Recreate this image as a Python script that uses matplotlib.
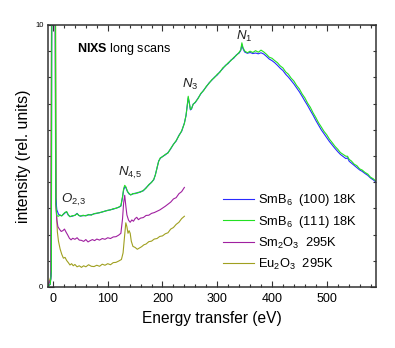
import numpy as np
import matplotlib.pyplot as plt

plt.rcParams['font.family'] = ['Liberation Sans', 'DejaVu Sans']
plt.rcParams['mathtext.fontset'] = 'custom'
plt.rcParams['mathtext.rm'] = 'Liberation Sans'
plt.rcParams['mathtext.it'] = 'Liberation Sans:italic'
plt.rcParams['mathtext.bf'] = 'Liberation Sans:bold'

# SmB6 energy grid (eV) shared by both crystal orientations
e_smb = [-10, -5, -3, -2, 1, 4, 5, 7, 10, 13, 16, 19, 22, 25, 28, 31, 35, 40, 44, 47,
         50, 55, 60, 65, 70, 75, 80, 85, 90, 95, 100, 105, 110, 115, 120, 124, 127, 129,
         131, 133, 136, 139, 142, 146, 150, 155, 160, 165, 170, 175, 180, 184, 187, 190,
         193, 196, 200, 205, 210, 215, 220, 225, 230, 235, 240, 243, 245, 247, 249, 251,
         253, 256, 260, 265, 270, 275, 280, 285, 290, 295, 300, 305, 310, 315, 320, 325,
         330, 335, 340, 343, 345, 347, 350, 355, 360, 365, 370, 375, 380, 385, 390, 395,
         400, 405, 410, 415, 420, 425, 430, 435, 440, 445, 450, 455, 460, 465, 470, 475,
         480, 485, 490, 495, 500, 505, 510, 515, 520, 525, 530, 535, 538, 541, 545, 550,
         555, 560, 565, 570, 575, 580, 585, 590]

smb6_111 = [0.02, 0.1, 0.6, 14, 40, 14, 3.2, 2.72, 2.70, 2.75, 2.71, 2.79, 2.85, 2.88, 2.75,
            2.68, 2.72, 2.73, 2.80, 2.74, 2.70, 2.74, 2.71, 2.77, 2.74, 2.80, 2.82, 2.83,
            2.87, 2.89, 2.93, 2.94, 2.99, 3.00, 3.05, 3.10, 3.45, 3.75, 3.88, 3.83, 3.65,
            3.57, 3.51, 3.57, 3.56, 3.61, 3.62, 3.69, 3.77, 3.91, 3.99, 4.11, 4.27, 4.56,
            4.79, 4.93, 4.97, 5.06, 5.11, 5.29, 5.44, 5.59, 5.77, 5.96, 6.24, 6.56, 6.90,
            7.28, 7.04, 6.78, 6.81, 6.97, 7.06, 7.19, 7.39, 7.49, 7.66, 7.77, 7.91, 7.99,
            8.12, 8.20, 8.36, 8.44, 8.56, 8.64, 8.76, 8.84, 8.96, 9.05, 9.32, 9.14, 9.01,
            8.94, 9.00, 8.95, 9.02, 8.96, 9.04, 8.97, 8.88, 8.77, 8.73, 8.64, 8.56, 8.44,
            8.36, 8.21, 8.12, 7.97, 7.86, 7.69, 7.56, 7.37, 7.22, 7.02, 6.86, 6.65, 6.47,
            6.27, 6.11, 5.94, 5.81, 5.64, 5.51, 5.37, 5.26, 5.13, 5.06, 4.99, 4.99, 4.87,
            4.81, 4.69, 4.63, 4.51, 4.46, 4.37, 4.31, 4.19, 4.13, 4.04]

smb6_100 = [0.02, 0.1, 0.6, 14, 40, 16, 3.4, 2.95, 2.78, 2.73, 2.72, 2.77, 2.83, 2.86, 2.74,
            2.69, 2.70, 2.74, 2.81, 2.73, 2.71, 2.72, 2.73, 2.75, 2.76, 2.79, 2.81, 2.84,
            2.86, 2.90, 2.92, 2.95, 2.97, 3.01, 3.04, 3.09, 3.42, 3.70, 3.82, 3.80, 3.64,
            3.55, 3.52, 3.55, 3.58, 3.59, 3.64, 3.67, 3.79, 3.89, 4.00, 4.09, 4.29, 4.53,
            4.81, 4.91, 4.98, 5.04, 5.13, 5.27, 5.45, 5.57, 5.79, 5.94, 6.26, 6.54, 6.88,
            7.22, 7.02, 6.76, 6.79, 6.98, 7.04, 7.21, 7.37, 7.51, 7.64, 7.79, 7.89, 8.01,
            8.09, 8.22, 8.33, 8.46, 8.53, 8.66, 8.73, 8.86, 8.93, 9.03, 9.25, 9.10, 8.97,
            8.92, 8.95, 8.91, 8.93, 8.90, 8.94, 8.89, 8.80, 8.70, 8.64, 8.56, 8.46, 8.35,
            8.26, 8.12, 8.01, 7.88, 7.75, 7.60, 7.45, 7.28, 7.10, 6.93, 6.74, 6.56, 6.36,
            6.18, 6.00, 5.85, 5.70, 5.55, 5.42, 5.29, 5.17, 5.06, 4.98, 4.90, 4.93, 4.80,
            4.73, 4.64, 4.55, 4.47, 4.41, 4.33, 4.26, 4.16, 4.09, 4.00]

# Sm2O3
e_sm2o3 = [-10, -4, -2, 1, 3, 5, 7, 9, 12, 15, 18, 21, 24, 27, 30, 33, 36, 40, 44, 48, 52,
           56, 60, 64, 68, 72, 76, 80, 85, 90, 95, 100, 105, 110, 115, 120, 124, 127, 129,
           131, 133, 135, 138, 141, 144, 147, 150, 153, 156, 160, 165, 170, 175, 180, 185,
           190, 195, 200, 205, 210, 215, 220, 225, 230, 235, 240]
sm2o3 = [0.02, 0.3, 15, 40, 15, 3.2, 2.56, 2.30, 2.20, 2.12, 2.15, 2.21, 2.09, 1.98, 1.86,
         1.80, 1.86, 1.82, 1.88, 1.79, 1.78, 1.74, 1.81, 1.72, 1.77, 1.81, 1.77, 1.83, 1.79,
         1.85, 1.82, 1.88, 1.85, 1.91, 1.92, 1.98, 2.05, 2.60, 3.20, 3.50, 3.10, 2.75, 2.55,
         2.47, 2.56, 2.51, 2.61, 2.66, 2.57, 2.63, 2.65, 2.73, 2.74, 2.81, 2.84, 2.89, 2.94,
         3.01, 3.08, 3.16, 3.24, 3.36, 3.41, 3.56, 3.64, 3.80]

# Eu2O3
e_eu2o3 = [-10, -4, -2, 1, 4, 6, 8, 10, 13, 16, 19, 22, 25, 28, 31, 34, 37, 40, 44, 48, 52,
           56, 60, 65, 70, 75, 80, 85, 90, 95, 100, 105, 110, 115, 120, 125, 128, 131, 133,
           135, 137, 139, 141, 143, 146, 150, 154, 158, 162, 166, 170, 175, 180, 185, 190,
           195, 200, 205, 210, 215, 220, 225, 230, 235, 240]
eu2o3 = [0.0, 0.4, 15, 40, 15, 3.0, 2.1, 1.75, 1.45, 1.25, 1.10, 1.13, 1.01, 0.93, 0.84,
         0.89, 0.81, 0.86, 0.77, 0.81, 0.75, 0.81, 0.77, 0.85, 0.79, 0.78, 0.83, 0.79, 0.87,
         0.83, 0.89, 0.85, 0.93, 0.94, 0.99, 1.05, 1.30, 2.00, 2.45, 2.30, 2.05, 2.15, 2.05,
         1.75, 1.55, 1.51, 1.44, 1.49, 1.54, 1.61, 1.64, 1.73, 1.75, 1.83, 1.85, 1.93, 1.95,
         2.03, 2.07, 2.21, 2.27, 2.39, 2.47, 2.61, 2.70]

fig = plt.figure(figsize=(3.95, 3.48), dpi=100)
ax = fig.add_axes([0.1203, 0.1753, 0.8316, 0.7529])

lw = 0.8
l_eu, = ax.plot(e_eu2o3, eu2o3, color='#a0a020', lw=lw, label=r'Eu$_2$O$_3$  295K')
l_sm, = ax.plot(e_sm2o3, sm2o3, color='#a020a0', lw=lw, label=r'Sm$_2$O$_3$  295K')
l_100, = ax.plot(e_smb, smb6_100, color='#2a2aff', lw=lw, label=r'SmB$_6$  (100) 18K')
l_111, = ax.plot(e_smb, smb6_111, color='#22e022', lw=lw, label=r'SmB$_6$  (111) 18K')

ax.set_xlim(-10, 590)
ax.set_ylim(0, 10)
ax.set_xticks(np.arange(0, 501, 100))
ax.set_xticks(np.arange(0, 590, 20), minor=True)
ax.set_yticks([0, 10])
ax.set_yticks(np.arange(1, 10, 1), minor=True)
ax.tick_params(which='both', direction='in', top=True, right=True, width=0.8, color='#333333')
ax.tick_params(which='major', length=4)
ax.tick_params(which='minor', length=2.5)
ax.tick_params(axis='x', labelsize=9, pad=4)
ax.tick_params(axis='y', labelsize=5.5, pad=3)
for s in ax.spines.values():
    s.set_linewidth(1.1)
    s.set_color('#333333')

ax.set_xlabel('Energy transfer (eV)', fontsize=11.2, labelpad=5)
ax.set_ylabel('intensity (rel. units)', fontsize=11.4, labelpad=3)

ax.text(43.8, 8.95, r'$\bf{NIXS}$ long scans', fontsize=9)
ax.text(14.6, 3.22, r'$\mathit{O}_{\mathit{2{,}3}}$', fontsize=9.5, color='#222222')
ax.text(117.9, 4.24, r'$\mathit{N}_{\mathit{4{,}5}}$', fontsize=9.5, color='#222222')
ax.text(235.4, 7.59, r'$\mathit{N}_{\mathit{3}}$', fontsize=9.5, color='#222222')
ax.text(334, 9.44, r'$\mathit{N}_{\mathit{1}}$', fontsize=9.5, color='#222222')

ax.legend([l_100, l_111, l_sm, l_eu],
          [l_100.get_label(), l_111.get_label(), l_sm.get_label(), l_eu.get_label()],
          loc='center left', bbox_to_anchor=(0.534, 0.21),
          frameon=False, fontsize=9.3, handlelength=2.4, handletextpad=0.35,
          labelspacing=0.45, borderpad=0, borderaxespad=0)

fig.savefig('out.png', dpi=100)
